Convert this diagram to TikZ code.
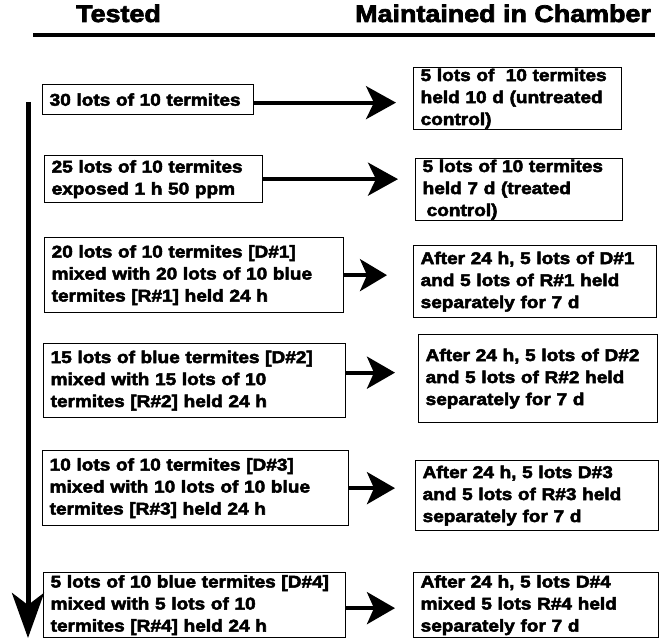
\documentclass[tikz,border=0pt]{standalone}
\usepackage{fontspec}
\newfontfamily\heavy{Liberation Sans Bold}[FakeBold=3,FakeStretch=1.12]
\usetikzlibrary{arrows.meta}
\tikzset{
  box/.style={draw, line width=1.3pt, anchor=north west, inner xsep=7pt, inner ysep=0pt,
    align=left, font=\heavy\fontsize{17}{22}\selectfont},
  hdr/.style={anchor=base west, inner sep=0pt, font=\heavy\fontsize{24}{28}\selectfont},
  conn/.style={line width=4pt, -{Stealth[length=30pt,width=33pt,inset=8pt]}, shorten >=17pt},
  flow/.style={line width=5pt, -{Stealth[length=45pt,width=32pt,inset=12pt]}}
}
\begin{document}
\begin{tikzpicture}[x=1pt,y=-1pt]
\useasboundingbox (0,0) rectangle (662,639);
% headers
\node[hdr] (h1) at (76,22) {Tested};
\node[hdr] (h2) at (355,22) {Maintained in Chamber};
\coordinate (rl) at (33,35);
\coordinate (rr) at (655,35);
\draw[line width=3.5pt] (rl) -- (rr);
% left boxes
\node[box, text width=197pt, minimum height=30pt] (l1) at (42,84) {30 lots of 10 termites};
\node[box, text width=204pt, minimum height=47pt] (l2) at (44,155) {25 lots of 10 termites\\exposed 1 h 50 ppm};
\node[box, text width=285pt, minimum height=75pt] (l3) at (44,237) {20 lots of 10 termites [D\#1]\\mixed with 20 lots of 10 blue\\termites [R\#1] held 24 h};
\node[box, text width=288pt, minimum height=74pt] (l4) at (43,343) {15 lots of blue termites [D\#2]\\mixed with 15 lots of 10\\termites [R\#2] held 24 h};
\node[box, text width=292pt, minimum height=75pt] (l5) at (42,450) {10 lots of 10 termites [D\#3]\\mixed with 10 lots of 10 blue\\termites [R\#3] held 24 h};
\node[box, text width=288pt, minimum height=65pt] (l6) at (43,572) {5 lots of 10 blue termites [D\#4]\\mixed with 5 lots of 10\\termites [R\#4] held 24 h};
% right boxes
\node[box, text width=194pt, minimum height=62pt] (r1) at (413,67) {5 lots of \ 10 termites\\held 10 d (untreated\\control)};
\node[box, text width=193pt, minimum height=62pt] (r2) at (415,158) {5 lots of 10 termites\\held 7 d (treated\\\hspace*{4pt}control)};
\node[box, text width=229pt, minimum height=72pt] (r3) at (413,245) {After 24 h, 5 lots of D\#1\\and 5 lots of R\#1 held\\separately for 7 d};
\node[box, text width=225pt, minimum height=88pt] (r4) at (418,334) {After 24 h, 5 lots of D\#2\\and 5 lots of R\#2 held\\separately for 7 d};
\node[box, text width=229pt, minimum height=70pt] (r5) at (415,460) {After 24 h, 5 lots D\#3\\and 5 lots of R\#3 held\\separately for 7 d};
\node[box, text width=231pt, minimum height=65pt] (r6) at (413,572) {After 24 h, 5 lots D\#4\\mixed 5 lots R\#4 held\\separately for 7 d};
% connectors
\draw[conn] ([yshift=-3pt]l1.east) -- ([yshift=-3pt]l1.east -| r1.west);
\draw[conn] (l2.east) -- (l2.east -| r2.west);
\draw[conn, shorten >=26pt, -{Stealth[length=27pt,width=32pt,inset=7pt]}] (l3.east) -- (l3.east -| r3.west);
\draw[conn, shorten >=23pt, -{Stealth[length=28pt,width=32pt,inset=7pt]}] ([yshift=8pt]l4.east) -- ([yshift=8pt]l4.east -| r4.west);
\draw[conn, shorten >=20pt, -{Stealth[length=28pt,width=32pt,inset=7pt]}] (l5.east) -- (l5.east -| r5.west);
\draw[conn, shorten >=18pt, -{Stealth[length=28pt,width=32pt,inset=7pt]}] ([yshift=-3pt]l6.east) -- ([yshift=-3pt]l6.east -| r6.west);
% flow arrow
\coordinate (vtop) at (28,102);
\coordinate (vbot) at (28,638);
\draw[flow] (vtop) -- (vbot);
\end{tikzpicture}
\end{document}
